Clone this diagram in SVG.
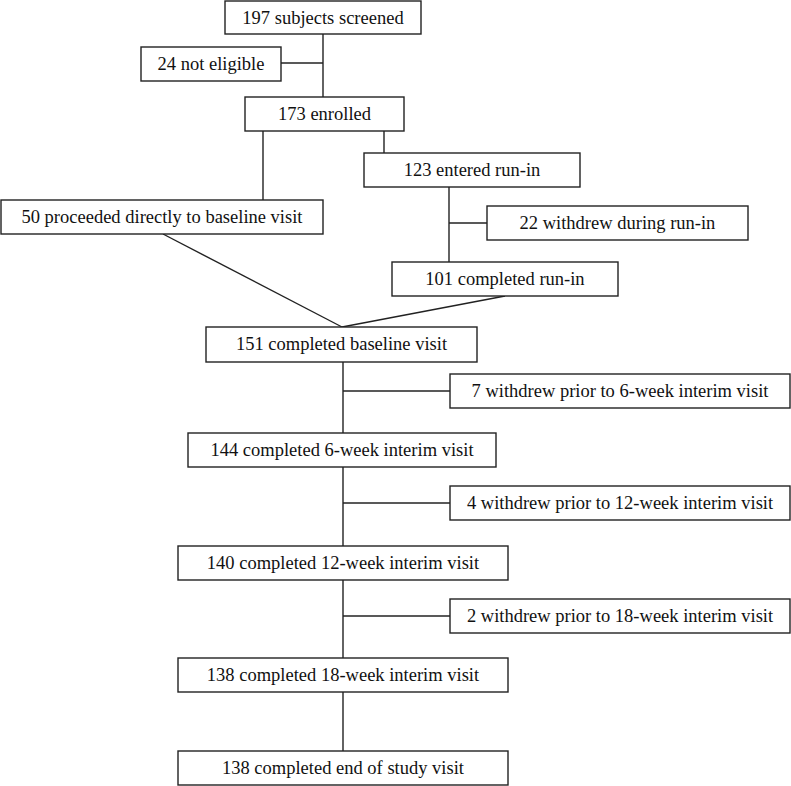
<svg xmlns="http://www.w3.org/2000/svg" width="791" height="786" viewBox="0 0 791 786">
<style>
rect{fill:#fff;stroke:#222;stroke-width:1.4}
line{stroke:#222;stroke-width:1.4}
text{font-family:'Liberation Serif','DejaVu Serif',serif;font-size:18.5px;fill:#111;text-anchor:middle}
</style>
<rect x="0" y="0" width="791" height="786" style="stroke:none"/>
<g id="connectors">
<line x1="323" y1="34" x2="323" y2="97"/>
<line x1="281" y1="63" x2="323" y2="63"/>
<line x1="263" y1="131" x2="263" y2="200"/>
<line x1="384" y1="131" x2="384" y2="153"/>
<line x1="449" y1="187" x2="449" y2="262"/>
<line x1="449" y1="223" x2="487" y2="223"/>
<line x1="163" y1="234" x2="342" y2="327"/>
<line x1="505" y1="296" x2="342" y2="327"/>
<line x1="343" y1="362" x2="343" y2="433"/>
<line x1="343" y1="391" x2="450" y2="391"/>
<line x1="343" y1="467" x2="343" y2="546"/>
<line x1="343" y1="503" x2="450" y2="503"/>
<line x1="343" y1="580" x2="343" y2="658"/>
<line x1="343" y1="616" x2="450" y2="616"/>
<line x1="343" y1="692" x2="343" y2="751"/>
</g>
<g id="n197"><rect x="225" y="1" width="196" height="33"/><text x="323" y="24">197 subjects screened</text></g>
<g id="n24"><rect x="141" y="47" width="140" height="34"/><text x="211" y="70">24 not eligible</text></g>
<g id="n173"><rect x="245" y="97" width="159" height="34"/><text x="324.5" y="120">173 enrolled</text></g>
<g id="n123"><rect x="364" y="153" width="216" height="34"/><text x="472" y="176">123 entered run-in</text></g>
<g id="n50"><rect x="1" y="200" width="322" height="34"/><text x="162" y="223">50 proceeded directly to baseline visit</text></g>
<g id="n22"><rect x="487" y="206" width="261" height="34"/><text x="617.5" y="229">22 withdrew during run-in</text></g>
<g id="n101"><rect x="392" y="262" width="226" height="34"/><text x="505" y="285">101 completed run-in</text></g>
<g id="n151"><rect x="206" y="327" width="271" height="35"/><text x="341.5" y="350">151 completed baseline visit</text></g>
<g id="n7"><rect x="450" y="374" width="340" height="34"/><text x="620" y="397">7 withdrew prior to 6-week interim visit</text></g>
<g id="n144"><rect x="188" y="433" width="308" height="34"/><text x="342" y="456">144 completed 6-week interim visit</text></g>
<g id="n4"><rect x="450" y="486" width="340" height="34"/><text x="620" y="509">4 withdrew prior to 12-week interim visit</text></g>
<g id="n140"><rect x="178" y="546" width="330" height="34"/><text x="343" y="569">140 completed 12-week interim visit</text></g>
<g id="n2"><rect x="450" y="599" width="340" height="34"/><text x="620" y="622">2 withdrew prior to 18-week interim visit</text></g>
<g id="n138a"><rect x="178" y="658" width="330" height="34"/><text x="343" y="681">138 completed 18-week interim visit</text></g>
<g id="n138b"><rect x="178" y="751" width="330" height="34"/><text x="343" y="774">138 completed end of study visit</text></g>
</svg>
